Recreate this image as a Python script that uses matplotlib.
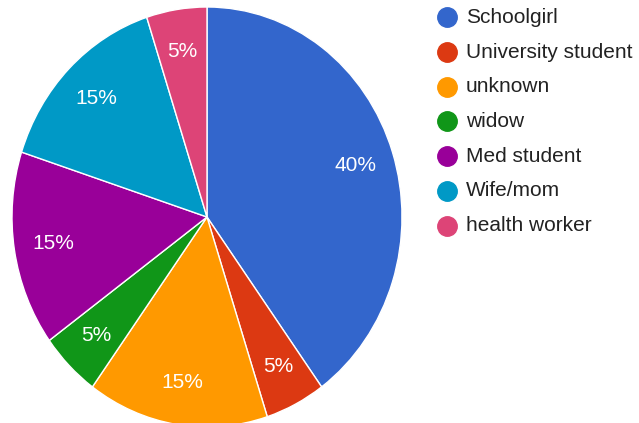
import matplotlib
matplotlib.use("Agg")
import matplotlib.pyplot as plt
from matplotlib.lines import Line2D

# occupation breakdown
categories = ["Schoolgirl", "University student", "unknown", "widow",
              "Med student", "Wife/mom", "health worker"]
shares = [40, 5, 15, 5, 15, 15, 5]
colors = ["#3366cc", "#dc3912", "#ff9900", "#109618",
          "#990099", "#0099c6", "#dd4477"]

plt.rcParams["font.family"] = ["Liberation Sans", "DejaVu Sans"]

W, H = 639, 423
fig = plt.figure(figsize=(W / 100, H / 100), dpi=100)

# pie is slightly taller than wide in the reference, so let the axes stretch it
ax = fig.add_axes([12 / W, (H - 427) / H, 390 / W, 420 / H])
wedges, texts, autotexts = ax.pie(
    shares, colors=colors, startangle=90, counterclock=False,
    autopct="%d%%", pctdistance=0.8,
    wedgeprops=dict(edgecolor="white", linewidth=1.0),
    textprops=dict(color="white", fontsize=15),
)
ax.set_aspect("auto")
ax.set_xlim(-1, 1)
ax.set_ylim(-1, 1)
ax.axis("off")

# legend drawn by hand, one row per category
for i, (name, c) in enumerate(zip(categories, colors)):
    y = 1 - (17.3 + 34.7 * i) / H
    fig.add_artist(Line2D([447 / W], [y], transform=fig.transFigure,
                          marker="o", markersize=14, color=c, linestyle="none"))
    fig.text(466 / W, y, name, fontsize=15, color="#222222",
             va="center", ha="left")

fig.savefig("out.png", dpi=100)
